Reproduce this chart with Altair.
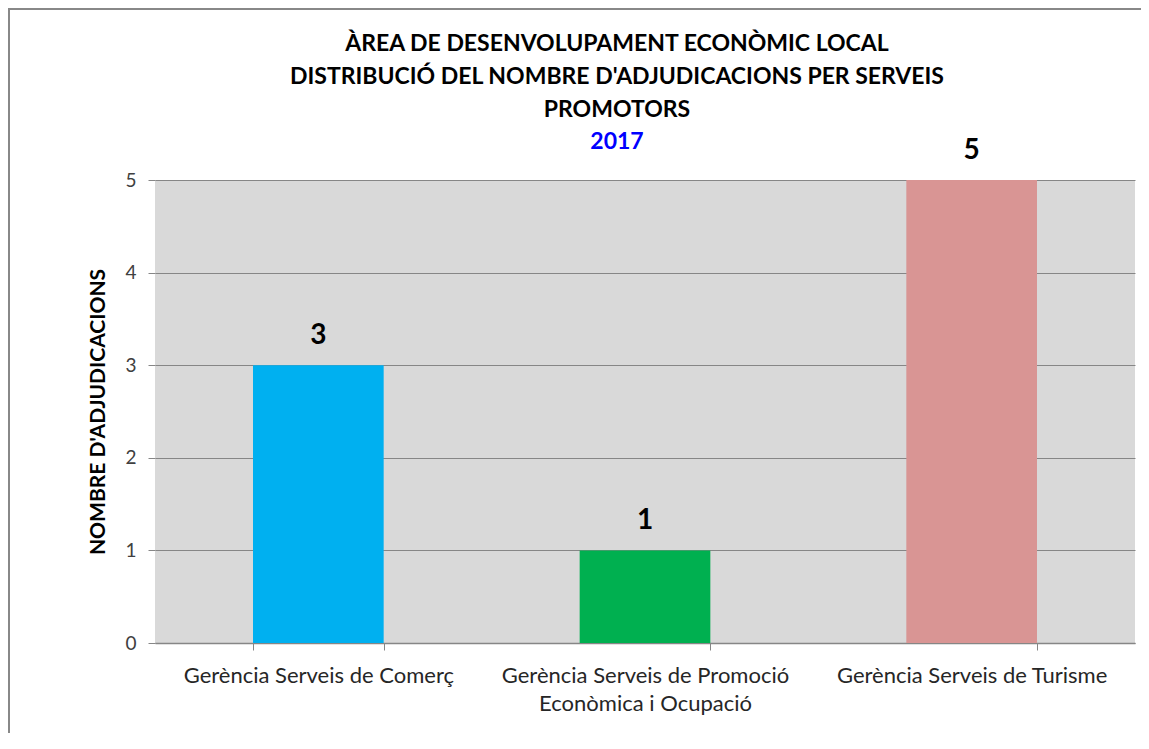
import altair as alt
import pandas as pd

categories = ["Gerència Serveis de Comerç",
              "Gerència Serveis de Promoció Econòmica i Ocupació",
              "Gerència Serveis de Turisme"]
values = [3, 1, 5]
colors = ["#00B0F0", "#00B050", "#D99594"]

df = pd.DataFrame({"cat": categories, "val": values, "color": colors})

FONT = "Lato"

label_expr = ("datum.label == 'Gerència Serveis de Promoció Econòmica i Ocupació' ? "
              "['Gerència Serveis de Promoció', 'Econòmica i Ocupació'] : datum.label")

x = alt.X("cat:N", sort=categories, title=None,
          scale=alt.Scale(paddingInner=0.6, paddingOuter=0.3),
          axis=alt.Axis(labelAngle=0, labelExpr=label_expr, labelFont=FONT,
                        labelFontSize=22, labelColor="#262626", labelPadding=25,
                        labelLineHeight=28, labelBaseline="middle", labelLimit=500,
                        tickBand="extent", tickSize=7, tickColor="#868686",
                        domainColor="#868686", domainWidth=1.5))
y = alt.Y("val:Q", title="NOMBRE D'ADJUDICACIONS",
          scale=alt.Scale(domain=[0, 5], nice=False),
          axis=alt.Axis(values=[0, 1, 2, 3, 4, 5], format="d", tickSize=7,
                        tickColor="#868686", domain=False, gridColor="#868686",
                        gridWidth=1, labelFont=FONT, labelFontSize=19,
                        labelColor="#404040", labelPadding=12, titleFont=FONT,
                        titleFontSize=21, titleFontWeight="bold",
                        titleColor="#000000", titlePadding=16))

bars = alt.Chart(df).mark_bar().encode(
    x=x, y=y, color=alt.Color("color:N", scale=None)
)
text = alt.Chart(df).mark_text(font=FONT, fontSize=28, fontWeight="bold",
                               color="#000000", baseline="alphabetic", dy=-21).encode(
    x=alt.X("cat:N", sort=categories), y="val:Q", text="val:Q"
)
border_left = alt.Chart(df).mark_rule(color="#888888", strokeWidth=2).encode(
    x=alt.value(-146), y=alt.value(-172), y2=alt.value(560)
)
border_top = alt.Chart(df).mark_rule(color="#888888", strokeWidth=2).encode(
    x=alt.value(-147), x2=alt.value(990), y=alt.value(-171)
)

chart = alt.layer(bars, text, border_left, border_top).properties(
    width=980, height=463,
    background="white",
    autosize=alt.AutoSizeParams(type="none"),
    padding={"left": 147, "top": 172, "right": 6, "bottom": 90},
    title=alt.TitleParams(
        text=["ÀREA DE DESENVOLUPAMENT ECONÒMIC LOCAL",
              "DISTRIBUCIÓ DEL NOMBRE D'ADJUDICACIONS PER SERVEIS",
              "PROMOTORS"],
        subtitle="2017",
        font=FONT, fontSize=23, fontWeight="bold", color="#000000",
        lineHeight=33, subtitleFont=FONT, subtitleFontSize=23,
        subtitleFontWeight="bold", subtitleColor="#0000FF", subtitlePadding=9,
        anchor="middle", dx=-28, offset=-147
    )
).configure_view(fill="#D9D9D9", strokeWidth=0)

chart.save("out.html", embed_options={"renderer": "svg", "actions": False})
